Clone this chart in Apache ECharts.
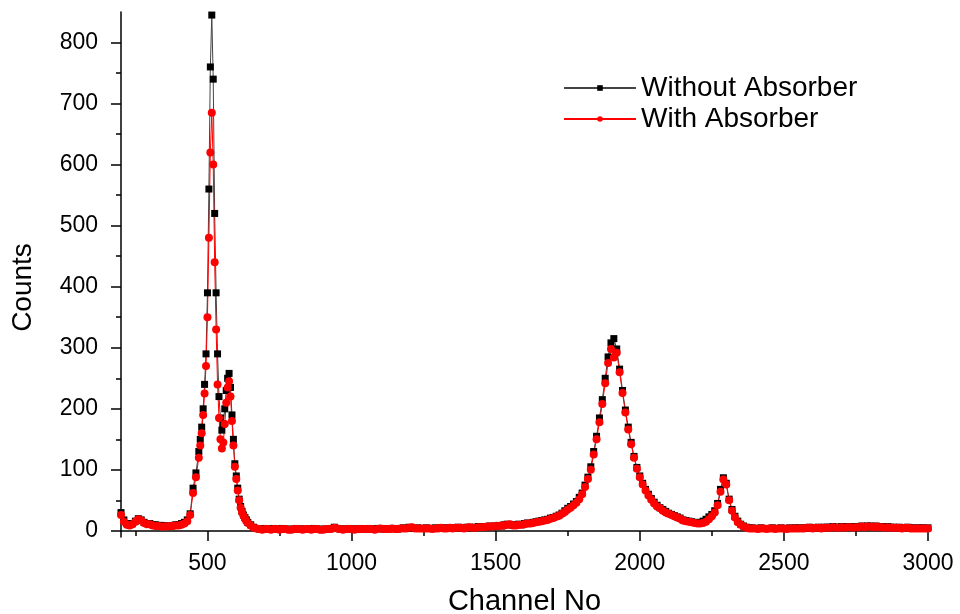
<!DOCTYPE html>
<html>
<head>
<meta charset="utf-8">
<script src="https://cdn.jsdelivr.net/npm/echarts@6.0.0/dist/echarts.min.js"></script>
<style>
  html, body { margin: 0; padding: 0; background: #fff; }
  #main { width: 960px; height: 614px; }
</style>
</head>
<body>
<div id="main"></div>
<script>
// channel grids: [first channel, step]
const lowGrid = [200, 10];   // 200 - 470
const peakGrid = [475, 5];   // 475 - 640
const highGrid = [650, 10];  // 650 - 3000

// counts, without absorber
const noAbsLow = [30, 18, 12, 10, 12, 16, 20, 18, 14, 12, 12, 10, 10, 9, 9, 8, 8, 8, 9, 10,
  10, 12, 14, 18, 28, 70, 95, 130];
const noAbsPeak = [150, 170, 200, 240, 290, 390, 560, 760, 845, 740, 520, 390, 290, 220, 185, 165, 175, 200, 230, 250,
  258, 235, 190, 150, 110, 90, 70, 52, 40, 32, 26, 22, 18, 14];
const noAbsHigh = [
  10, 6, 4, 3, 3, 4, 3, 3, 4, 3,
  3, 4, 3, 3, 2, 3, 4, 3, 3, 3,
  3, 3, 4, 3, 3, 2, 3, 3, 4, 6,
  4, 3, 3, 3, 4, 3, 3, 3, 4, 3,
  3, 4, 3, 3, 4, 4, 3, 4, 3, 4,
  4, 3, 4, 5, 4, 6, 4, 4, 5, 4,
  4, 5, 4, 4, 5, 4, 5, 5, 4, 5,
  5, 5, 6, 5, 5, 6, 6, 5, 6, 7,
  6, 7, 7, 8, 7, 8, 9, 8, 10, 11,
  10, 9, 10, 11, 10, 12, 13, 12, 14, 15,
  16, 17, 18, 19, 21, 22, 24, 26, 29, 33,
  37, 40, 44, 48, 55, 62, 75, 88, 105, 130,
  155, 185, 215, 250, 285, 308, 315, 298, 265, 230,
  198, 170, 145, 122, 104, 90, 78, 68, 60, 53,
  47, 42, 38, 35, 32, 29, 27, 25, 23, 21,
  18, 17, 16, 15, 14, 13, 14, 16, 19, 23,
  27, 33, 45, 68, 87, 78, 52, 35, 24, 16,
  11, 8, 6, 5, 5, 4, 4, 5, 4, 4,
  4, 5, 4, 4, 5, 4, 4, 5, 4, 5,
  5, 4, 5, 5, 6, 5, 5, 6, 5, 6,
  6, 6, 7, 6, 6, 7, 6, 7, 7, 6,
  7, 7, 8, 7, 8, 8, 7, 8, 7, 7,
  6, 7, 6, 6, 5, 6, 5, 5, 6, 5,
  5, 4, 5, 5, 4, 5];

// counts with absorber
const absLow = [26, 15, 10, 9, 11, 15, 19, 17, 13, 11, 11, 9, 8, 8, 7, 7, 7, 8, 8, 9,
  9, 10, 12, 16, 26, 62, 88, 120];
const absPeak = [140, 160, 190, 225, 270, 350, 480, 620, 685, 600, 440, 330, 240, 185, 150, 135, 145, 175, 210, 235,
  245, 220, 180, 140, 105, 85, 66, 50, 38, 30, 25, 20, 16, 13];
const absHigh = [
  9, 5, 4, 3, 2, 3, 3, 2, 3, 3,
  2, 3, 3, 2, 2, 3, 3, 3, 2, 3,
  3, 2, 3, 3, 2, 2, 3, 3, 3, 5,
  4, 3, 2, 3, 3, 3, 2, 3, 3, 3,
  3, 3, 3, 2, 3, 4, 3, 3, 3, 4,
  3, 3, 4, 4, 4, 5, 6, 4, 4, 4,
  4, 4, 4, 3, 4, 4, 5, 4, 4, 5,
  4, 5, 5, 5, 4, 5, 6, 5, 5, 6,
  6, 6, 7, 7, 7, 8, 8, 9, 9, 10,
  11, 9, 9, 10, 10, 11, 12, 12, 13, 14,
  15, 16, 17, 18, 20, 21, 23, 25, 28, 31,
  35, 38, 42, 46, 52, 60, 72, 85, 100, 125,
  150, 178, 208, 242, 275, 298, 284, 292, 260, 226,
  194, 166, 142, 120, 102, 88, 76, 66, 58, 51,
  45, 40, 37, 33, 30, 28, 26, 24, 22, 20,
  17, 16, 15, 14, 13, 12, 12, 13, 15, 19,
  24, 30, 42, 64, 84, 76, 50, 33, 22, 14,
  10, 7, 5, 4, 4, 4, 3, 4, 4, 3,
  4, 4, 3, 4, 4, 4, 3, 4, 4, 4,
  4, 4, 4, 5, 5, 4, 5, 5, 4, 5,
  5, 5, 6, 5, 5, 6, 5, 6, 6, 5,
  6, 6, 7, 6, 7, 7, 6, 7, 6, 6,
  5, 6, 5, 5, 5, 5, 4, 5, 5, 4,
  4, 4, 4, 4, 4, 4];

const xLabels = [500, 1000, 1500, 2000, 2500, 3000];
const xMinor = [250, 750, 1250, 1750, 2250, 2750];
const yLabels = [0, 100, 200, 300, 400, 500, 600, 700, 800];
const yMinor = [50, 150, 250, 350, 450, 550, 650, 750];

function toPoints(grid, values) {
  return values.map((v, i) => [grid[0] + i * grid[1], v]);
}

const noAbsData = [].concat(toPoints(lowGrid, noAbsLow), toPoints(peakGrid, noAbsPeak), toPoints(highGrid, noAbsHigh));
const absData = [].concat(toPoints(lowGrid, absLow), toPoints(peakGrid, absPeak), toPoints(highGrid, absHigh));

const font = 'Liberation Sans, Arial, sans-serif';
const axisLine = { show: true, lineStyle: { color: '#000', width: 1.5 } };
const plain = v => String(v);

const chart = echarts.init(document.getElementById('main'));

chart.setOption({
  animation: false,
  backgroundColor: '#fff',
  grid: { left: 121, right: 32, top: 12, bottom: 77, containLabel: false, outerBoundsMode: 'none' },
  legend: {
    orient: 'vertical',
    left: 558,
    top: 69,
    itemWidth: 72,
    itemHeight: 7,
    itemGap: 3,
    textStyle: { fontFamily: font, fontSize: 28, color: '#000', lineHeight: 28 },
    data: ['Without Absorber', 'With Absorber']
  },
  xAxis: [
    {
      type: 'value',
      min: 200,
      max: 3000,
      name: 'Channel No',
      nameLocation: 'middle',
      nameGap: 50,
      nameTextStyle: { fontFamily: font, fontSize: 29, color: '#000' },
      axisLine: axisLine,
      axisTick: { show: true, customValues: xLabels, length: 10, lineStyle: { color: '#000', width: 1.5 } },
      axisLabel: { customValues: xLabels, formatter: plain, fontFamily: font, fontSize: 23, color: '#000', margin: 15 },
      splitLine: { show: false }
    },
    {
      type: 'value',
      position: 'bottom',
      min: 200,
      max: 3000,
      axisLine: { show: false },
      axisTick: { show: true, customValues: xMinor, length: 5, lineStyle: { color: '#000', width: 1.5 } },
      axisLabel: { show: false },
      splitLine: { show: false }
    }
  ],
  yAxis: [
    {
      type: 'value',
      min: -10,
      max: 850,
      name: 'Counts',
      nameLocation: 'middle',
      nameGap: 84,
      nameTextStyle: { fontFamily: font, fontSize: 28, color: '#000', padding: [0, 26, 0, 0] },
      axisLine: axisLine,
      axisTick: { show: true, customValues: yLabels, length: 10, lineStyle: { color: '#000', width: 1.5 } },
      axisLabel: { customValues: yLabels, formatter: plain, fontFamily: font, fontSize: 23, color: '#000', margin: 23 },
      splitLine: { show: false }
    },
    {
      type: 'value',
      position: 'left',
      min: -10,
      max: 850,
      axisLine: { show: false },
      axisTick: { show: true, customValues: yMinor, length: 5, lineStyle: { color: '#000', width: 1.5 } },
      axisLabel: { show: false },
      splitLine: { show: false }
    }
  ],
  series: [
    {
      name: 'Without Absorber',
      type: 'line',
      data: noAbsData,
      symbol: 'rect',
      symbolSize: 7,
      showSymbol: true,
      showAllSymbol: true,
      itemStyle: { color: '#000' },
      lineStyle: { color: '#444', width: 1 }
    },
    {
      name: 'With Absorber',
      type: 'line',
      data: absData,
      symbol: 'circle',
      symbolSize: 8,
      showSymbol: true,
      showAllSymbol: true,
      itemStyle: { color: '#ff0000' },
      lineStyle: { color: '#ff0000', width: 1 }
    }
  ]
});
</script>
</body>
</html>
